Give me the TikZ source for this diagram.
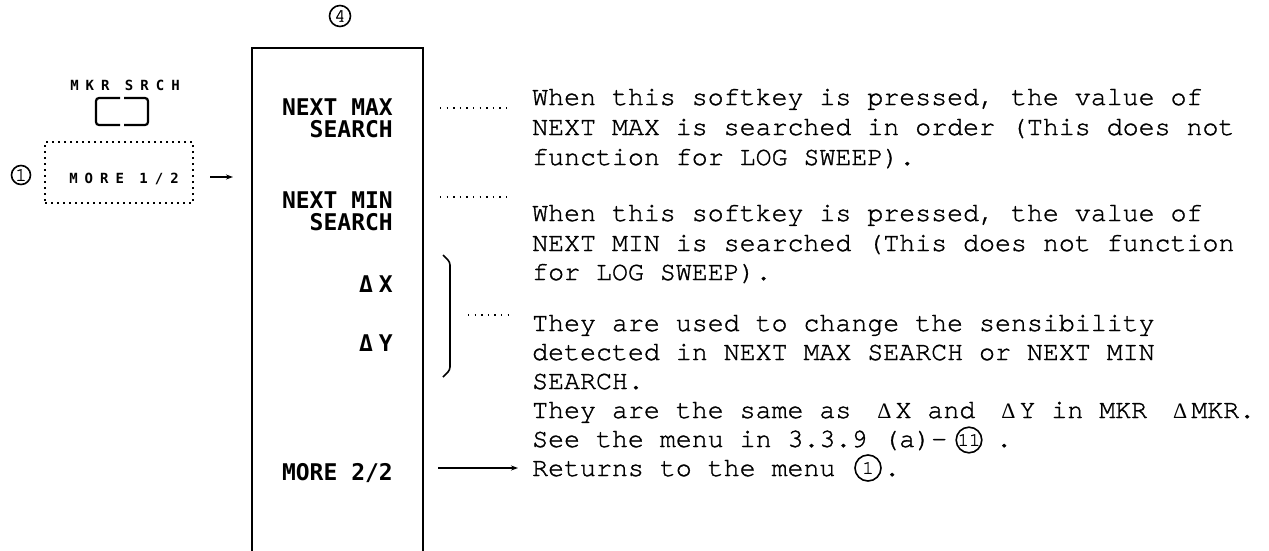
\documentclass[tikz,border=0pt]{standalone}
\usepackage{fontspec}
\setmainfont{Liberation Mono}
\newfontfamily\descfont[FakeBold=1.2]{TeX Gyre Cursor}
\newfontfamily\deltafont{Liberation Serif}
\newfontfamily\keyfont{DejaVu Sans Mono}
\newfontfamily\tinykey[LetterSpace=50]{DejaVu Sans Mono}
\newcommand\dlt{{\deltafont\fontsize{22}{24}\selectfont Δ}}
\usetikzlibrary{arrows.meta}
\begin{document}
\begin{tikzpicture}[x=1pt,y=-1pt,
  desc/.style={font=\descfont\fontsize{26.6}{29}\selectfont, anchor=base west, inner sep=0pt},
  keylab/.style={font=\keyfont\bfseries\fontsize{23}{27}\selectfont, anchor=base east, inner sep=0pt},
  tinylab/.style={font=\tinykey\bfseries\fontsize{14}{16}\selectfont, inner sep=0pt},
  leader/.style={line width=1.4pt, dash pattern=on 1.4pt off 5.2pt},
  dotbox/.style={draw, line width=1.6pt, dash pattern=on 1.6pt off 4.4pt, inner sep=0pt},
  circnum/.style={circle, draw, line width=1.6pt, inner sep=0pt, font=\descfont\fontsize{19}{21}\selectfont},
  boxline/.style={line width=1.8pt},
  arr/.style={line width=1.3pt, -{Stealth[length=7pt,width=5pt]}},
]
\useasboundingbox (0,0) rectangle (1269,550);

% left: key and first menu
\node[tinylab] (mkr) at (125,85) {MKR SRCH};
\draw[line width=2.2pt, rounded corners=3pt]
  (120,98) -- (96,98) -- (96,125) -- (120,125)
  (124,98) -- (148,98) -- (148,125) -- (124,125);
\node[dotbox, minimum width=148pt, minimum height=61pt] (morebox) at (119,172.5) {};
\node[tinylab] (more1) at (124,179) {MORE 1/2};
\node[circnum, minimum size=19pt] (c1) at (21,175) {1};
\coordinate (a1s) at (210,177);
\coordinate (a1e) at (233,177);
\draw[arr] (a1s) -- (a1e);

% menu box
\node[circnum, minimum size=21pt] (c4) at (340,16) {4};
\coordinate (boxbl) at (252,552);
\coordinate (boxtl) at (252,48);
\coordinate (boxtr) at (423,48);
\coordinate (boxbr) at (423,552);
\draw[boxline] (boxbl) -- (boxtl) -- (boxtr) -- (boxbr);

\node[keylab] (k1a) at (393,115) {NEXT MAX};
\node[keylab] (k1b) at (393,137) {SEARCH};
\node[keylab] (k2a) at (393,208) {NEXT MIN};
\node[keylab] (k2b) at (393,230) {SEARCH};
\node[keylab] (k3) at (393,292) {Δ\kern6pt X};
\node[keylab] (k4) at (393,351) {Δ\kern6pt Y};
\node[keylab] (k5) at (393,480) {MORE 2/2};

% leaders
\coordinate (l1s) at (440,108); \coordinate (l1e) at (508,108);
\coordinate (l2s) at (440,197); \coordinate (l2e) at (508,197);
\coordinate (l3s) at (468,315); \coordinate (l3e) at (508,315);
\draw[leader] (l1s) -- (l1e);
\draw[leader] (l2s) -- (l2e);
\draw[leader] (l3s) -- (l3e);

% bracket
\coordinate (bt) at (443,255);
\coordinate (bb) at (443,377);
\draw[line width=1.6pt, rounded corners=3pt] (bt) -- (450,262) -- (450,370) -- (bb);

% return arrow
\coordinate (a2s) at (438,468);
\coordinate (a2e) at (518,468);
\draw[arr] (a2s) -- (a2e);

% descriptions
\node[desc] (d1) at (532,105) {When this softkey is pressed, the value of};
\node[desc] (d2) at (532,135) {NEXT MAX is searched in order (This does not};
\node[desc] (d3) at (532,165) {function for LOG SWEEP).};
\node[desc] (d4) at (532,221) {When this softkey is pressed, the value of};
\node[desc] (d5) at (532,251) {NEXT MIN is searched (This does not function};
\node[desc] (d6) at (532,280) {for LOG SWEEP).};
\node[desc] (d7) at (532,331) {They are used to change the sensibility};
\node[desc] (d8) at (532,360) {detected in NEXT MAX SEARCH or NEXT MIN};
\node[desc] (d9) at (532,389) {SEARCH.};
\node[desc] (d10) at (532,418) {They are the same as\hspace{26pt}\dlt\kern4pt X and\hspace{26pt}\dlt\kern4pt Y in MKR\hspace{26pt}\dlt\kern4pt MKR.};
\node[desc] (d11) at (532,447) {See the menu in 3.3.9 (a)-};
\node[circnum, minimum size=24pt] (c11) at (969,440) {11};
\node[desc] (d11b) at (996,447) {.};
\node[desc] (d12) at (532,476) {Returns to the menu};
\node[circnum, minimum size=26pt] (c1b) at (868,468) {1};
\node[desc] (d12b) at (884,476) {.};
\end{tikzpicture}
\end{document}
